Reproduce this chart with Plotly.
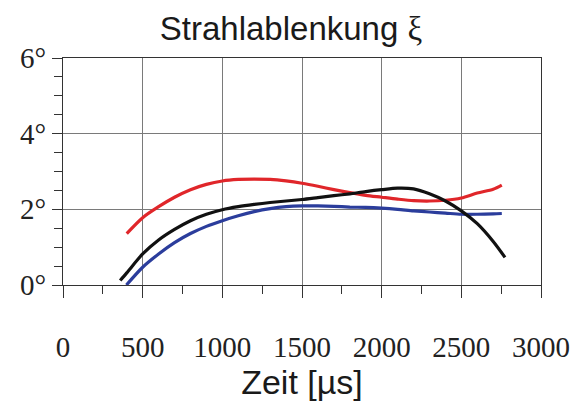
import plotly.graph_objects as go

red_x = [400, 500, 600, 700, 800, 900, 1000, 1100, 1200, 1300, 1400, 1500, 1600, 1700, 1800, 1900, 2000, 2100, 2200, 2300, 2400, 2500, 2600, 2700, 2754]
red_y = [1.36, 1.78, 2.07, 2.32, 2.52, 2.66, 2.75, 2.79, 2.8, 2.79, 2.75, 2.69, 2.61, 2.52, 2.44, 2.37, 2.32, 2.27, 2.23, 2.22, 2.24, 2.3, 2.43, 2.53, 2.64]

black_x = [359, 400, 500, 600, 700, 800, 900, 1000, 1100, 1200, 1300, 1400, 1500, 1600, 1700, 1800, 1900, 2000, 2100, 2200, 2300, 2400, 2500, 2600, 2700, 2774]
black_y = [0.12, 0.32, 0.82, 1.19, 1.47, 1.7, 1.87, 1.99, 2.07, 2.13, 2.18, 2.22, 2.26, 2.31, 2.36, 2.41, 2.47, 2.52, 2.56, 2.54, 2.41, 2.22, 1.96, 1.62, 1.15, 0.73]

blue_x = [398, 500, 600, 700, 800, 900, 1000, 1100, 1200, 1300, 1400, 1500, 1600, 1700, 1800, 1900, 2000, 2100, 2200, 2300, 2400, 2500, 2600, 2700, 2754]
blue_y = [0.0, 0.47, 0.82, 1.12, 1.36, 1.55, 1.7, 1.83, 1.94, 2.02, 2.07, 2.09, 2.09, 2.08, 2.06, 2.05, 2.03, 2.0, 1.96, 1.93, 1.9, 1.87, 1.87, 1.88, 1.89]

x_ticks = [0, 500, 1000, 1500, 2000, 2500, 3000]
y_ticks = [0, 2, 4, 6]
y_labels = ["0°", "2°", "4°", "6°"]

fig = go.Figure()
for xs, ys, col in [(red_x, red_y, "#e0262a"), (blue_x, blue_y, "#2b3d9c"), (black_x, black_y, "#111111")]:
    fig.add_trace(go.Scatter(x=xs, y=ys, mode="lines",
                             line=dict(color=col, width=3.2, shape="spline", smoothing=0.8),
                             showlegend=False, hoverinfo="skip"))

serif = "Liberation Serif, Times New Roman, serif"
sans = "Liberation Sans, Arial, sans-serif"
fig.update_layout(
    width=582, height=401,
    margin=dict(l=63, r=31, t=58, b=113),
    paper_bgcolor="white", plot_bgcolor="white",
    title=dict(text="Strahlablenkung <span style='font-family:Liberation Serif'>ξ</span>",
               x=0.5, xanchor="center", y=1 - 28 / 401, yanchor="middle",
               font=dict(family=sans, size=33, color="#1a1a1a")),
    xaxis=dict(range=[0, 3000], tickvals=x_ticks, ticktext=[str(v) for v in x_ticks],
               showgrid=True, gridcolor="#7a7a7a", gridwidth=1.3,
               showline=True, linecolor="#333333", linewidth=1.3, mirror=True,
               ticks="outside", ticklen=12, tickcolor="#333333", tickwidth=1.3,
               minor=dict(dtick=250, ticks="outside", ticklen=8, tickcolor="#333333", tickwidth=1.3, showgrid=False),
               ticklabelstandoff=24,
               tickfont=dict(family=serif, size=29, color="#222222"),
               title=dict(text="Zeit [µs]", font=dict(family=sans, size=34, color="#1a1a1a"), standoff=2),
               zeroline=False),
    yaxis=dict(range=[0, 6], tickvals=y_ticks, ticktext=y_labels,
               showgrid=True, gridcolor="#7a7a7a", gridwidth=1.3,
               showline=True, linecolor="#333333", linewidth=1.3, mirror=True,
               ticks="outside", ticklen=10, tickcolor="#333333", tickwidth=1.3,
               minor=dict(dtick=0.5, ticks="outside", ticklen=8, tickcolor="#333333", tickwidth=1.3, showgrid=False),
               tickfont=dict(family=serif, size=29, color="#222222"),
               zeroline=False),
)
fig.write_html("out.html")
